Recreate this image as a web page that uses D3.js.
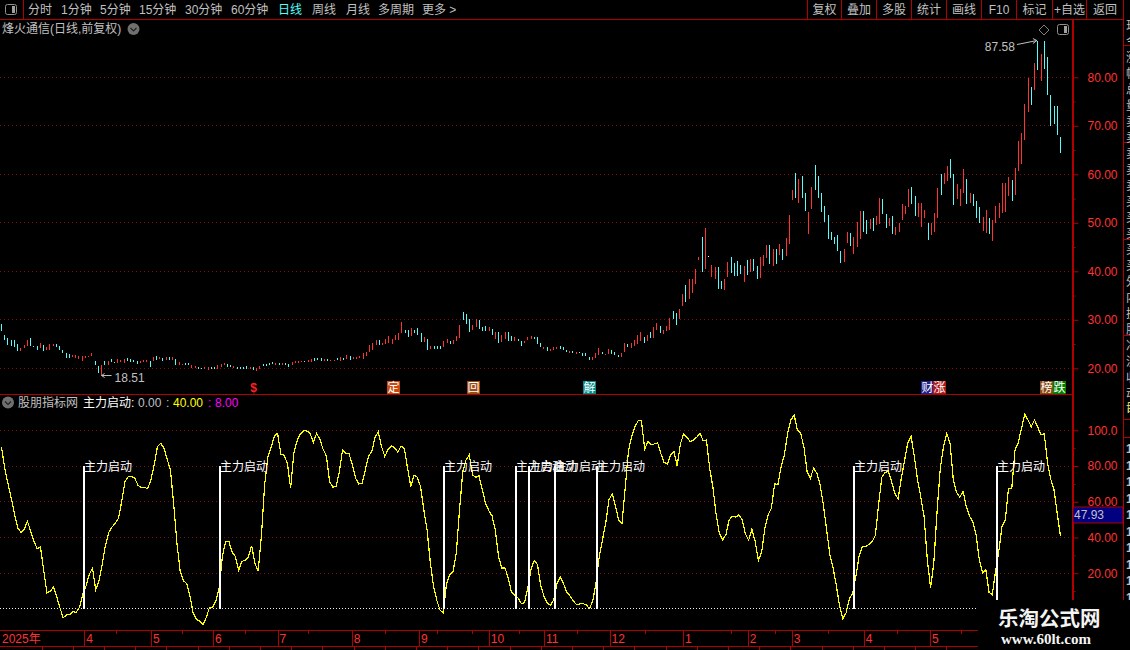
<!DOCTYPE html>
<html>
<head>
<meta charset="utf-8">
<script src="https://cdn.jsdelivr.net/npm/d3@7"></script>
<style>
html, body { margin: 0; padding: 0; background: #000; overflow: hidden; }
svg { display: block; }
text { font-family: "Liberation Sans", "Noto Sans CJK SC", sans-serif; font-size: 12px; }
</style>
</head>
<body>
<svg id="chart" width="1130" height="650"></svg>
<script>
// K线 high / low
const barHigh = [
    29.2,26.9,26.3,25.9,25.8,25,24.2,24.9,25.9,26.3,
    24.7,24.5,25.3,24.9,24.3,25.1,25.1,25,24.5,23.7,
    23.1,22.9,22.8,22.7,22.6,22.6,22.6,22.6,23.2,21.5,
    20.5,20.7,21.5,21.5,21.9,21.4,21.9,21.7,21.9,22.1,
    21.9,21.7,21.6,21.5,21.7,21.8,21.5,22.4,22.6,22.4,
    22.2,22.4,22.4,22.4,21.9,21.2,20.8,21,21,20.6,
    20.5,20.2,20.1,20.3,20.2,20.2,20.3,20.6,20.8,21.1,
    20.9,20.6,20.5,20.3,20.2,20.3,20.4,20.2,20.2,20.1,
    20.5,20.9,20.9,21,21.3,21,21,21,21,20.8,
    21.4,21.5,21.5,21.6,21.6,21.8,22,22.1,22.2,22.1,22,21.9,
    21.7,21.7,22.2,22.4,22.2,22.8,22.6,22.4,22.4,22.6,
    23.1,23.4,24.9,25.3,25.8,25.9,25.3,26.1,26.6,26.1,
    26.9,27.2,29.5,28,27.8,28.4,28,28.3,27.3,26.4,
    26.1,24.7,24.7,24.7,24.7,25.6,26.1,25.6,25.9,26.7,
    29,31.7,31.1,30.1,29,30.1,29.9,28.5,28.8,28.6,
    28.2,27.4,27.4,26.9,27.4,27.4,26.7,26.5,26.1,25.7,
    25.7,26.5,26.7,26.5,26.5,25.3,24.4,24.4,24,24.4,
    24.4,24.7,24.4,23.8,23.6,23.6,23.4,23.4,23.2,23.2,
    22.4,22.4,23.2,24.2,23.4,23,24,23.8,23.4,22.8,
    23.2,25.3,25.1,25.3,25.9,26.9,27.4,26.5,26.9,27.4,
    28.6,29.4,
    28.8,28,28.7,30.4,31.9,31.3,32.3,35.4,37.1,38.5,
    38.5,40.5,43,47.1,49,43.1,41.2,40.8,40.8,38.1,
    38.5,42,43,41.8,42.2,41.4,41,42.4,42.6,42.6,
    41,43,43.4,45.5,45.5,44.5,44.5,45.7,44.5,46.9,
    51.6,56.8,60.3,59,59.7,56.2,52.3,57.4,61.9,59.7,
    56.2,53.5,51.6,48.2,47.1,47.5,44.2,44.5,48.2,47.9,
    47.1,50.2,52.5,52.5,50.6,50.8,51,51.4,55.1,54.9,
    51.8,51,51.4,49.2,50,53.9,53.5,57,57.4,55.5,
    54.1,54.1,52.7,50,50,52.1,57.2,60.1,60.3,61.7,
    63.2,60.1,58,57,61.1,59,56.2,56,54.5,53.3,
    51.2,52.7,51,50.6,53.5,54.1,58.2,58.2,59.5,58.8,
    61.3,66.8,68.5,
    74.5,79.9,78,83,87.58,84.8,87.5,84.2,76.4,74.1,74.1,67.7
];
const barLow = [
    27.6,25.9,24.9,24.7,24.4,23.5,23.5,24.2,24.7,24.5,
    24.3,23.8,24.2,23.5,23.7,23.8,24.7,24.3,23.8,23.1,
    22.1,22.1,22.4,22.2,22,21.5,22.2,22.3,22.6,20.6,
    19,18.51,20.7,20.7,21.4,21,21,21.2,21,21.5,
    21.4,21.4,20.9,21,21.2,21.3,20.3,21.5,21.7,21.9,
    21.5,21.7,21.7,21.7,20.7,20.7,20.6,20.7,20.6,20,
    20,19.9,19.9,19.9,19.7,19.9,19.9,19.9,20.3,20.6,
    20.2,20.3,20,19.9,19.8,19.9,19.9,19.8,19.7,19.4,
    19.9,20.5,20.5,20.6,20.8,20.7,20.6,20.7,20.6,20.2,
    20.6,21,21.1,21.3,21.3,21.3,21.4,21.6,21.7,21.6,21.5,21.5,
    21.5,21.5,21.7,21.5,21.7,21.9,21.7,21.9,21.9,22.1,
    21.9,22.6,23.4,23.8,24.9,24.9,24.9,25.1,25.2,25,
    25.8,25.9,27.2,27.2,26.5,26.6,27.3,26.9,25.5,25.5,
    23.7,24,24,24,24,24.4,25.2,25.1,25.1,25.6,
    26.3,29.9,29.2,27.4,27.8,28.5,28.1,27.6,27.6,27.6,
    26.9,26,25.3,25.5,26,25.7,25.7,25.7,25.7,24.7,
    25.3,25.9,26.1,26.1,25.1,24.4,24,23.6,23.6,23.8,
    24,24,23.8,23.4,23.2,23.2,23,23.1,22.6,22.6,
    21.7,21.7,22.2,22.8,23,22.8,23,23,22.8,22.4,
    22.4,23.4,24.4,24.2,24.7,25.1,25.7,25.3,25.7,26.3,
    26.3,27.8,
    27.2,27,27.7,27.9,30.1,29,30.1,32.8,33.6,34.2,
    35.5,37.3,42.4,39.8,40.5,43,38.9,38.5,36.4,36.4,
    36.2,38.9,39.7,39.1,39.1,39.5,37.7,39.3,39.9,40.1,
    38.5,38.7,41,42.8,41.6,41,41.6,43.4,42.4,43.2,
    45.7,54.7,55.1,54.1,55.1,52.5,47.7,52.9,56.8,55.1,
    52.3,50.2,46.7,46.5,45.7,44.2,41.8,42,45.9,45.3,
    43.6,45.1,46.7,48.2,47.7,48.8,48.4,49.6,49.8,51.8,
    49,49.4,47.7,47.5,48.2,50.6,51.8,53.3,53.9,51.4,
    51.2,49.2,51,46.5,47.5,48.2,51,55.8,58,58.6,
    59.2,53.7,54.9,53.5,56.2,53.9,54.1,53.5,51,50,
    48.4,47.9,47.7,46.3,50,51,52.1,52.3,55.5,54.5,
    55.8,60.7,62.1,
    67.1,72.9,74.3,77.4,81.5,79.2,81.7,76.4,70,70.4,68.1,64.4
];
// r 阳 c 阴 w 平
const barKind = (
    "ccccccrrrc" + "ccrcrrrccc" + "ccrrrrrrrc" + "crcrccrrrc" + "cccrrrcrcr" +
    "crcrcrrccr" + "rccrrccrrr" + "ccrccccrcr" + "rccccrcrcc" + "rrrrcrrcccrc" +
    "rrcrcrcrrr" + "rrrrrcrrrr" + "rrrccrcccr" + "crcccrrcrr" + "rcccrrcccr" +
    "crcrrccrcc" + "rrrcccrcrr" + "rcccrcrccc" + "crrrcrrccc" + "rrcrrrrcrc" + "rr" +
    "crrrccrrcr" + "rrrcrwrrcc" + "rrccccrcrc" + "crrrcrcrcr" + "rrcrccrrcc" +
    "cccccccrrc" + "rrrccrcrrc" + "crcrrrrrcc" + "rrrcrrrcrr" + "ccrrrcrccc" +
    "rrcrrrrrrc" + "rrr" + "rrcrcrcccccc"
).split("");

// 主力线
const mainLine = [
    90.5,78.8,70,62,53.1,45.3,42.8,44.7,49,43.4,37.8,33.7,34.6,21.6,8.9,9.9,12.1,6.7,0.6,-5,
    -3.4,-3.2,-1.5,-1.9,0.9,8,12.7,19.2,22.9,10.8,15.5,24.8,35.6,42.8,45.8,47.9,50.8,60.1,71.3,74.1,
    74.1,73.2,69.3,68,68,67.4,72.3,80.6,90.9,92.7,90.1,83.8,77.8,58.8,36.9,21,15.8,14.2,7.1,-2.2,
    -5.8,-6.9,-8.8,-5,0.6,1.1,4.5,11.7,29.4,37.8,37.8,31.7,29.4,21.6,26.6,27.2,29.1,35.4,25.7,21,
    40.6,69.5,84.9,90.5,96.8,98.3,86.6,86,81.6,67.6,87.2,94.2,98,99.8,99.6,98.3,93.1,98.3,95,89.4,
    85.7,71.3,68.2,68.5,76.9,89,87.2,86.8,80.6,73.2,70,70.4,77.8,85.7,88.1,96.1,99.1,90.9,85.3,89.4,
    91.2,90.3,87.7,91.2,89.9,78.8,68.5,74.9,73.7,68.5,55.5,44.3,26.1,12.7,4.8,-0.7,-2.2,14.2,19.2,21,
    31.3,55.5,76.9,83.4,86.2,75,73.7,74.5,66.7,59.2,55.1,52.1,44.3,29.4,22.9,22.9,17.3,9.3,7.6,6.1,
    3,3.4,11.7,22,27.2,24.8,13,7.1,3.4,1.9,5.2,14.2,17.7,14.2,9.3,7.3,4.5,2.4,2.8,3,
    2.2,0.2,4.3,14.5,29.1,38.7,48,61.1,64.4,57.7,49.5,47.7,67.6,88.6,96.5,102,105.4,105.4,89.4,93.7,
    91.8,92.4,92.9,86.8,81.9,81.2,86.2,88.1,80.1,92.4,98,96.1,93.7,94.6,96.1,98.3,94.2,94.6,78.8,68.2,
    52.7,42.1,38.7,41.5,49.9,51.8,51.4,52.7,49.9,42.1,38.4,44.7,37.8,27.2,31.7,45.3,52.7,56.4,70,69.5,
    79.7,86.2,98.3,105.8,108.6,100.2,98.3,90.9,76.9,73.2,78.8,76,69.5,58.3,44.3,30.4,22.9,13,1.5,-5.6,
    -2.2,5.6,8.6,18.2,29.4,35,35,36.1,37.6,41.2,58.3,73.7,76.4,77.1,71.3,64.8,61.6,73.2,83.1,93.1,
    96.8,85.3,72.3,62.6,51.8,27.6,11.7,25.7,54.6,78.8,90.9,98.3,92.7,72.3,65.2,62.6,65.7,57.4,51.8,49,
    41.5,27.6,20.1,22,9.3,8,21,32.2,46.2,49.9,67.6,67.6,89,93.1,101.1,108.9,105.8,102,105.8,101.7,
    97.4,98,81.9,72.6,66.7,53.3,40.6
];
const signalBars = [25, 67, 136, 158, 162, 170, 183, 262, 306]; // 主力启动 出现的位置
const signalValue = 80;

const priceTicks = [20, 30, 40, 50, 60, 70, 80];
const priceMinor = [25, 35, 45, 55, 65, 75];
const lineTicks = [20, 40, 60, 80, 100];
const lineMinor = [10, 30, 50, 70, 90];

const monthLabels = ["4", "5", "6", "7", "8", "9", "10", "11", "12", "1", "2", "3", "4", "5"];
const monthStarts = [25.5, 46, 65.1, 85, 107.8, 128.5, 150, 167, 187.2, 209.8, 229.7, 243.3, 265.4, 285.8];
const weekMarks = [35.2, 55.5, 75, 94.4, 118, 134.1, 144.9, 159.3, 177.2, 198.1, 224.6, 238.1, 254.4, 275.7, 295.4];

const periodLabels = ["分时", "1分钟", "5分钟", "15分钟", "30分钟", "60分钟", "日线", "周线", "月线", "多周期", "更多 >"];
const periodX = [28, 61, 100, 139, 185, 231, 278, 312, 346, 378, 422];
const toolLabels = ["复权", "叠加", "多股", "统计", "画线", "F10", "标记", "+自选", "返回"];
const toolEdges = [807, 841, 876, 911, 946, 981, 1016, 1052, 1086, 1123];

// 信息地雷
const mineLabels = ["$", "定", "回", "解", "财", "涨", "榜", "跌"];
const mineX = [247, 387, 467, 583, 921, 933, 1040, 1053];
const mineFill = ["none", "#c84a10", "#a04a10", "#008a8a", "#20208c", "#b01818", "#8a4a10", "#008000"];

const sideLabels = ["现", "今", "涨", "幅", "总", "量", "卖", "卖", "卖", "卖", "卖", "买", "买", "买", "买", "买", "外", "内", "换", "股", "净", "流", "收", "动", "市"];

const RED = "#b00000", GRID = "#800c0c", LABEL = "#ff3232", GRAY = "#c0c0c0";
const UP = "#ff3232", DOWN = "#54fcfc";

const svg = d3.select("#chart");
svg.append("rect").attr("width", 1130).attr("height", 650).attr("fill", "#000");

// 比例尺
const xBar = d3.scaleLinear().domain([0, barHigh.length - 1]).range([1.5, 1060.5]);
const xLine = d3.scaleLinear().domain([0, mainLine.length - 1]).range([1.5, 1060.5]);
const yPrice = d3.scaleLinear().domain([20, 80]).range([368.3, 77.3]);
const yLine = d3.scaleLinear().domain([0, 100]).range([608.9, 430.3]);
const px = v => Math.floor(v) + 0.5;

// 网格
function gridLines(ticks, y, colour, x2, dash) {
    svg.append("g").selectAll("line").data(ticks).enter().append("line")
        .attr("x1", 0).attr("x2", x2)
        .attr("y1", d => px(y(d))).attr("y2", d => px(y(d)))
        .attr("stroke", colour).attr("stroke-dasharray", dash)
        .attr("shape-rendering", "crispEdges");
}
gridLines(priceTicks, yPrice, GRID, 1072, "1 3");
gridLines(lineTicks, yLine, GRID, 1072, "1 3");
gridLines([0], yLine, "#f0f0f0", 978, "1 2");

// K线
svg.append("g").attr("shape-rendering", "crispEdges")
    .selectAll("rect").data(barHigh).enter().append("rect")
    .attr("x", (d, i) => Math.floor(xBar(i)))
    .attr("y", d => yPrice(d))
    .attr("width", 1)
    .attr("height", (d, i) => Math.max(1, yPrice(barLow[i]) - yPrice(d)))
    .attr("fill", (d, i) => barKind[i] === "r" ? UP : barKind[i] === "c" ? DOWN : "#fff");

// 最高 / 最低 标注
const lowBar = barLow.indexOf(d3.min(barLow));
const highBar = barHigh.indexOf(d3.max(barHigh));
const lowX = xBar(lowBar), lowY = yPrice(barLow[lowBar]);
const highX = xBar(highBar), highY = yPrice(barHigh[highBar]);
svg.append("path")
    .attr("d", `M${lowX + 10},${lowY}H${lowX}l3,-2M${lowX},${lowY}l3,2`)
    .attr("fill", "none").attr("stroke", GRAY);
svg.append("text").attr("x", lowX + 13).attr("y", lowY + 6).attr("fill", GRAY).text(barLow[lowBar].toFixed(2));
svg.append("path")
    .attr("d", `M${highX - 21},${highY + 4}L${highX - 1},${highY}l-4,-2M${highX - 1},${highY}l-4,3`)
    .attr("fill", "none").attr("stroke", GRAY);
svg.append("text").attr("x", highX - 23).attr("y", highY + 10).attr("text-anchor", "end").attr("fill", GRAY).text(barHigh[highBar].toFixed(2));

// 主力线
svg.append("path").datum(mainLine)
    .attr("fill", "none").attr("stroke", "#ffff00").attr("stroke-width", 1.2)
    .attr("shape-rendering", "crispEdges")
    .attr("d", d3.line().x((d, i) => xLine(i)).y(d => yLine(d)));

// 主力启动 柱
svg.append("g").attr("shape-rendering", "crispEdges")
    .selectAll("rect").data(signalBars).enter().append("rect")
    .attr("x", d => Math.round(xLine(d)))
    .attr("y", yLine(signalValue))
    .attr("width", 2)
    .attr("height", yLine(0) - yLine(signalValue))
    .attr("fill", "#fff");
svg.append("g").selectAll("text").data(signalBars).enter().append("text")
    .attr("x", d => Math.round(xLine(d)) + 1)
    .attr("y", yLine(signalValue) + 5)
    .attr("fill", "#fff")
    .text("主力启动");

// 右侧坐标轴
function rightAxis(ticks, minor, y, fmt) {
    const major = svg.append("g").attr("transform", "translate(1072.5,0)")
        .call(d3.axisRight(y).tickValues(ticks).tickSize(6).tickPadding(9).tickFormat(fmt));
    major.select(".domain").remove();
    major.selectAll("line").attr("stroke", RED);
    major.selectAll("text").attr("fill", LABEL).style("font-size", "12px")
        .style("font-family", '"Liberation Sans", sans-serif');
    const small = svg.append("g").attr("transform", "translate(1072.5,0)")
        .call(d3.axisRight(y).tickValues(minor).tickSize(3).tickFormat(""));
    small.select(".domain").remove();
    small.selectAll("line").attr("stroke", RED);
}
rightAxis(priceTicks, priceMinor, yPrice, d => d.toFixed(2));
rightAxis(lineTicks, lineMinor, yLine, d => d >= 100 ? d.toFixed(1) : d.toFixed(2));

// 主框线
function redLine(x1, y1, x2, y2, w) {
    svg.append("line").attr("x1", x1).attr("y1", y1).attr("x2", x2).attr("y2", y2)
        .attr("stroke", RED).attr("stroke-width", w || 1).attr("shape-rendering", "crispEdges");
}
redLine(0, 19.5, 1123, 19.5);
redLine(0, 394.5, 1072, 394.5);
redLine(1072.5, 20, 1072.5, 600, 2);
redLine(1123.5, 0, 1123.5, 600);
redLine(23.5, 0, 23.5, 19);

// 顶部工具条
function iconBox(x, y) {
    svg.append("rect").attr("x", x + 0.5).attr("y", y + 0.5).attr("width", 11).attr("height", 10).attr("rx", 2)
        .attr("fill", "none").attr("stroke", "#909090");
    svg.append("rect").attr("x", x + 7).attr("y", y + 2).attr("width", 3).attr("height", 7).attr("fill", "#a0a0a0");
}
iconBox(5, 4);
iconBox(1057, 24);
svg.append("path").attr("d", "M1044,25l5,5l-5,5l-5,-5z").attr("fill", "none").attr("stroke", "#808080");

svg.append("g").selectAll("text").data(periodLabels).enter().append("text")
    .attr("x", (d, i) => periodX[i]).attr("y", 14)
    .attr("fill", d => d === "日线" ? "#54fcfc" : GRAY)
    .text(d => d);
toolEdges.forEach(x => redLine(x + 0.5, 0, x + 0.5, 19));
svg.append("g").selectAll("text").data(toolLabels).enter().append("text")
    .attr("x", (d, i) => (toolEdges[i] + toolEdges[i + 1]) / 2 + 0.5).attr("y", 14)
    .attr("text-anchor", "middle").attr("fill", GRAY)
    .text(d => d);

// 下拉圆钮
function dropDot(cx, cy) {
    svg.append("circle").attr("cx", cx).attr("cy", cy).attr("r", 6).attr("fill", "#707070");
    svg.append("path").attr("d", `M${cx - 3},${cy - 1}l3,3l3,-3`).attr("fill", "none").attr("stroke", "#222").attr("stroke-width", 1.2);
}
svg.append("text").attr("x", 2).attr("y", 33).attr("fill", GRAY).text("烽火通信(日线,前复权)");
dropDot(133.5, 29);
dropDot(8, 402.5);

// 指标标题
const titleParts = [["股朋指标网", 18, GRAY], ["主力启动:", 83, "#fff"], ["0.00", 138, GRAY], [":", 166, GRAY],
    ["40.00", 173, "#ffff00"], [":", 208, "#ff00ff"], ["8.00", 215, "#ff00ff"]];
svg.append("g").selectAll("text").data(titleParts).enter().append("text")
    .attr("x", d => d[1]).attr("y", 407).attr("fill", d => d[2]).text(d => d[0]);

// 信息地雷
const mines = svg.append("g");
mineLabels.forEach((t, i) => {
    if (mineFill[i] !== "none") {
        mines.append("rect").attr("x", mineX[i]).attr("y", 381).attr("width", 13).attr("height", 13).attr("fill", mineFill[i]);
    }
    mines.append("text").attr("x", mineX[i] + 6.5).attr("y", 392).attr("text-anchor", "middle")
        .attr("fill", t === "$" ? "#ff2020" : "#fff").style("font-weight", t === "$" ? "bold" : "normal").text(t);
});

// 底部时间轴
redLine(0, 630.5, 978, 630.5);
redLine(0, 646.5, 978, 646.5);
const xMonth = d3.axisBottom(xLine).tickValues(monthStarts).tickSize(16).tickFormat("");
const monthAxis = svg.append("g").attr("transform", "translate(0,630.5)").call(xMonth);
monthAxis.select(".domain").remove();
monthAxis.selectAll("line").attr("stroke", RED).attr("shape-rendering", "crispEdges");
const weekAxis = svg.append("g").attr("transform", "translate(0,630.5)")
    .call(d3.axisBottom(xLine).tickValues(weekMarks).tickSize(3).tickFormat(""));
weekAxis.select(".domain").remove();
weekAxis.selectAll("line").attr("stroke", RED).attr("shape-rendering", "crispEdges");
svg.append("g").selectAll("text").data(monthLabels).enter().append("text")
    .attr("x", (d, i) => xLine(monthStarts[i]) + 2).attr("y", 643)
    .attr("fill", LABEL).text(d => d);
svg.append("text").attr("x", 2).attr("y", 643).attr("fill", LABEL).text("2025年");
d3.range(42, 978, 31.2).forEach(x => redLine(Math.floor(x) + 0.5, 647, Math.floor(x) + 0.5, 650));

// 右侧行情栏，只露出一点
[45, 142, 239, 335, 419, 437].forEach(y => redLine(1123, y + 0.5, 1130, y + 0.5));
svg.append("g").selectAll("text").data(sideLabels).enter().append("text")
    .attr("x", 1126).attr("y", (d, i) => 30 + i * 16).attr("fill", GRAY).text(d => d);
svg.append("text").attr("x", 1126).attr("y", 412).attr("fill", "#d8d860").text("目");
svg.append("g").selectAll("text").data(d3.range(10)).enter().append("text")
    .attr("x", 1126).attr("y", d => 453 + d * 16.5).attr("fill", GRAY).style("font-weight", "bold").text("1");

// 当前值框
svg.append("rect").attr("x", 1073).attr("y", 507).attr("width", 50).attr("height", 16).attr("fill", "#000080").attr("stroke", RED);
svg.append("text").attr("x", 1074).attr("y", 519).attr("fill", GRAY).text("47.93");

// 水印
svg.append("rect").attr("x", 978).attr("y", 600).attr("width", 152).attr("height", 50).attr("fill", "#000");
svg.append("text").attr("x", 998).attr("y", 626).attr("fill", "#f4f4f4")
    .style("font-family", '"Noto Sans CJK SC"').style("font-size", "20.5px").style("font-weight", "bold").text("乐淘公式网");
svg.append("text").attr("x", 1001).attr("y", 644).attr("fill", "#f4f4f4")
    .style("font-family", '"Liberation Serif"').style("font-size", "15px").style("font-weight", "bold").text("www.60lt.com");
</script>
</body>
</html>
